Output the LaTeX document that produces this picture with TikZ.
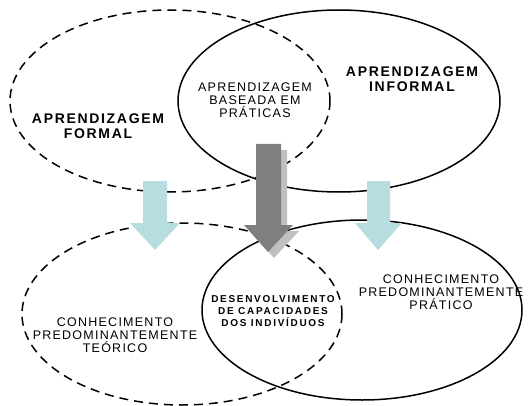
\documentclass[tikz,border=0pt]{standalone}
\usepackage{fontspec}
\setmainfont{Liberation Sans}
\newfontfamily\spc[LetterSpace=10]{Liberation Sans}
\newfontfamily\spcb[LetterSpace=12]{Liberation Sans}
\newfontfamily\spcs[LetterSpace=17]{Liberation Sans}
\definecolor{lblue}{HTML}{B7DDE0}
\definecolor{dgray}{HTML}{7F7F7F}
\definecolor{lgray}{HTML}{C0C0C0}
\begin{document}
\begin{tikzpicture}[x=1pt,y=-1pt,
  ring/.style={line width=1.5pt},
  dring/.style={line width=1.5pt,dash pattern=on 9pt off 6pt},
  lbl/.style={align=center,inner sep=0pt,font=\spc\fontsize{12.5}{13.3}\selectfont},
  blbl/.style={align=center,inner sep=0pt,font=\spcb\bfseries\fontsize{14}{15.5}\selectfont},
  slbl/.style={align=center,inner sep=0pt,font=\spcs\bfseries\fontsize{10}{12}\selectfont}]
\fill[white] (0,0) rectangle (532,406);
\useasboundingbox (0,0) rectangle (532,406);
% ellipses
\draw[dring] (170,101) ellipse [x radius=160, y radius=91];
\draw[ring] (339,101) ellipse [x radius=161, y radius=91];
\draw[dring] (182,314) ellipse [x radius=160, y radius=91];
\draw[ring] (362,310) ellipse [x radius=160, y radius=90];
% light blue arrows
\fill[lblue] (143,181) -- (167,181) -- (167,223) -- (180,223) -- (155,250) -- (130,223) -- (143,223) -- cycle;
\fill[lblue] (367,181) -- (390,181) -- (390,223) -- (402,223) -- (378,250) -- (355,223) -- (367,223) -- cycle;
% dark arrow with shadow
\fill[lgray] (262,150) -- (287,150) -- (287,231) -- (299,231) -- (274,258) -- (250,231) -- (262,231) -- cycle;
\fill[dgray] (256,144) -- (281,144) -- (281,225) -- (293,225) -- (268,252) -- (244,225) -- (256,225) -- cycle;
% texts
\node[blbl] (af) at (98,126) {APRENDIZAGEM\\FORMAL};
\node[lbl] (abp) at (255,100) {APRENDIZAGEM\\BASEADA EM\\PRÁTICAS};
\node[blbl] (ai) at (412,79) {APRENDIZAGEM\\INFORMAL};
\node[lbl] (ct) at (115,335) {CONHECIMENTO\\PREDOMINANTEMENTE\\TEÓRICO};
\node[slbl] (dc) at (273,311) {DESENVOLVIMENTO\\DE CAPACIDADES\\DOS INDIVÍDUOS};
\node[lbl] (cp) at (441,292) {CONHECIMENTO\\PREDOMINANTEMENTE\\PRÁTICO};
\end{tikzpicture}
\end{document}
